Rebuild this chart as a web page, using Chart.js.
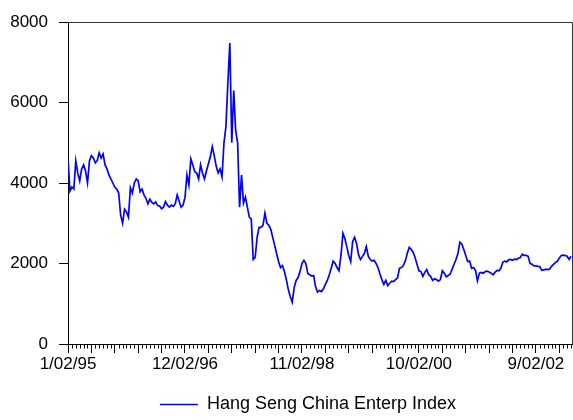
<!DOCTYPE html>
<html>
<head>
<meta charset="utf-8">
<title>Hang Seng China Enterprises Index</title>
<script src="https://cdn.jsdelivr.net/npm/chart.js@4"></script>
<style>
  html, body { margin: 0; padding: 0; background: #fff; }
  #wrap { width: 573px; height: 420px; }
</style>
</head>
<body>
<div id="wrap"><canvas id="c" width="573" height="420"></canvas></div>
<script>
// Index closes, one value per observation step, grouped by dated tick interval
const close95_96 = [
  4600,3800,3900,3850,4550,4250,4050,4350,4450,4300,
  4000,4550,4680,4620,4500,4560,4750,4620,4720,4450,
  4350,4200,4100,4000,3900,3850,3750,3200,3000,3350,
  3280,3150,3880,3750,4000,4100,4050,3780,3850,3700,
  3620,3480,3600,3520,3480,3530,3440,3430,3360,3400,
  3540,3450,3400,3450,3420,3480,3700,3550,3400,3450
];
const close96_98 = [
  3640,4200,3950,4600,4450,4280,4250,4100,4450,4250,
  4100,4300,4480,4650,4900,4680,4420,4250,4350,4150,
  5000,5400,6500,7480,5000,6300,5300,5000,3400,4200,
  3500,3650,3400,3150,3100,2100,2150,2650,2900,2900,
  2950,3250,3000,2950,2850,2650,2450,2250,2050,1900,
  1950,1800,1600,1350,1180,1040,1400,1580,1650,1800
];
const close98_00 = [
  2000,2080,2000,1750,1720,1690,1700,1420,1290,1330,
  1300,1370,1480,1580,1720,1880,2060,2000,1900,1820,
  2200,2750,2620,2420,2200,2050,2550,2650,2500,2220,
  2100,2170,2250,2420,2180,2100,2060,2080,2000,1900,
  1740,1600,1480,1580,1450,1510,1560,1550,1600,1640,
  1880,1900,1950,2060,2250,2400,2350,2280,2150,1980
];
const close00_02 = [
  1820,1800,1680,1780,1850,1720,1680,1580,1620,1600,
  1560,1600,1820,1760,1670,1700,1740,1860,1980,2100,
  2250,2530,2480,2350,2200,2050,2060,1880,1900,1830,
  1570,1760,1780,1760,1800,1810,1790,1760,1720,1780,
  1830,1820,1880,2030,2060,2040,2090,2100,2080,2110,
  2100,2130,2150,2230,2200,2200,2180,2000,1980,1940
];
const close02_03 = [
  1940,1930,1920,1830,1840,1860,1850,1860,1930,1980,
  2020,2060,2140,2200,2210,2200,2180,2100,2180
];

const seriesName = 'Hang Seng China Enterp Index';
const dateTickLabels = ['1/02/95', '12/02/96', '11/02/98', '10/02/00', '9/02/02'];
const yTicks = [0, 2000, 4000, 6000, 8000];

// observation spacing of the x-axis ticks
const labelEvery = 60;
const majorEvery = 12;
const minorEvery = 2;

const closes = [].concat(close95_96, close96_98, close98_00, close00_02, close02_03);
const points = closes.map((v, i) => ({ x: i, y: v }));
const lastObs = closes.length - 0.5;

Chart.defaults.font.family = '"Liberation Sans", Arial, Helvetica, sans-serif';
Chart.defaults.color = '#000';

// short minor ticks under the x axis, plus the top and right frame lines
const axisDecor = {
  id: 'axisDecor',
  afterLayout(chart) {
    // centre the legend under the plot rather than the whole canvas
    const lg = chart.legend;
    if (lg) { lg.left += 22; lg.right += 22; }
  },
  afterDraw(chart) {
    const { ctx, chartArea: a } = chart;
    const x = chart.scales.x;
    ctx.save();
    ctx.strokeStyle = '#000';
    ctx.lineWidth = 1;
    ctx.beginPath();
    for (let v = 0; v <= x.max; v += minorEvery) {
      if (v % majorEvery === 0) continue;
      const px = Math.round(x.getPixelForValue(v)) + 0.5;
      ctx.moveTo(px, a.bottom);
      ctx.lineTo(px, a.bottom + 4.5);
    }
    ctx.stroke();
    ctx.strokeStyle = '#333';
    ctx.beginPath();
    ctx.moveTo(a.left, Math.round(a.top) + 0.5);
    ctx.lineTo(Math.round(a.right) + 0.5, Math.round(a.top) + 0.5);
    ctx.lineTo(Math.round(a.right) + 0.5, a.bottom);
    ctx.stroke();
    ctx.restore();
  }
};

new Chart(document.getElementById('c'), {
  type: 'line',
  data: {
    datasets: [{
      label: seriesName,
      data: points,
      borderColor: '#0000ff',
      backgroundColor: '#0000ff',
      borderWidth: 1.7,
      pointRadius: 0,
      tension: 0,
      fill: false
    }]
  },
  options: {
    responsive: false,
    animation: false,
    events: [],
    layout: { padding: { left: 0, right: 1, top: 22, bottom: -3.5 } },
    plugins: {
      tooltip: { enabled: false },
      legend: {
        position: 'bottom',
        labels: {
          usePointStyle: true,
          pointStyle: 'line',
          pointStyleWidth: 38,
          font: { size: 18 },
          color: '#000',
          padding: 10
        }
      }
    },
    scales: {
      x: {
        type: 'linear',
        min: 0,
        max: lastObs,
        afterBuildTicks: (s) => {
          const t = [];
          for (let v = 0; v <= lastObs; v += majorEvery) t.push({ value: v });
          s.ticks = t;
        },
        afterFit: (s) => { s.height = 41.5; },
        grid: { drawOnChartArea: false, tickLength: 9, color: '#000' },
        border: { color: '#000' },
        ticks: {
          autoSkip: false,
          maxRotation: 0,
          padding: 1,
          font: { size: 17 },
          color: '#000',
          callback: (v) => (v % labelEvery === 0 ? (dateTickLabels[v / labelEvery] || '') : '')
        }
      },
      y: {
        min: 0,
        max: 8000,
        afterBuildTicks: (s) => { s.ticks = yTicks.map(v => ({ value: v })); },
        afterFit: (s) => { s.width = 68; },
        grid: { drawOnChartArea: false, tickLength: 9, color: '#000' },
        border: { color: '#000' },
        ticks: { padding: 11, font: { size: 17 }, color: '#000', callback: (v) => String(v) }
      }
    }
  },
  plugins: [axisDecor]
});
</script>
</body>
</html>
